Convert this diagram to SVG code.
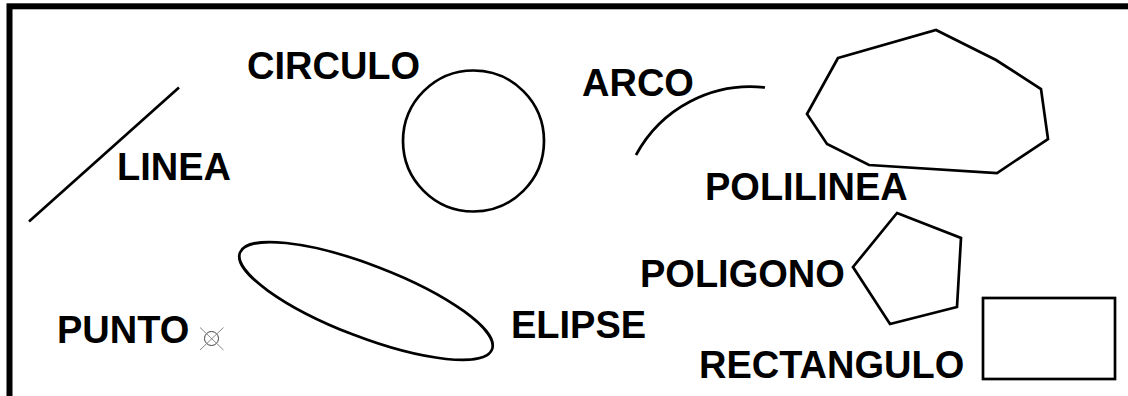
<svg xmlns="http://www.w3.org/2000/svg" width="1128" height="396" viewBox="0 0 1128 396">
<style>
.lbl{font-family:"Liberation Sans",Arial,sans-serif;font-weight:bold;font-size:38px;fill:#000}
.shp{fill:none;stroke:#000;stroke-width:2.7;stroke-linejoin:miter}
</style>
<rect width="1128" height="396" fill="#fff"/>
<rect id="frame" x="9.5" y="6.3" width="1140" height="420" fill="none" stroke="#000" stroke-width="6"/>
<g id="linea">
<line class="shp" x1="29" y1="221.5" x2="179" y2="87.5"/>
<text class="lbl" x="117" y="180">LINEA</text>
</g>
<g id="circulo">
<circle class="shp" cx="473.5" cy="141" r="70.5"/>
<text class="lbl" x="247" y="79">CIRCULO</text>
</g>
<g id="arco">
<path class="shp" d="M636 155 A130 130 0 0 1 765 87.5"/>
<text class="lbl" x="582" y="96">ARCO</text>
</g>
<g id="polilinea">
<polygon class="shp" points="838,58 936,30 996,60 1041,89 1048,139 997,173 869,165 827,144 807,114"/>
<text class="lbl" x="705" y="200">POLILINEA</text>
</g>
<g id="elipse">
<ellipse class="shp" cx="366" cy="301" rx="135" ry="36" transform="rotate(21 366 301)"/>
<text class="lbl" x="511" y="338">ELIPSE</text>
</g>
<g id="punto">
<circle cx="211.5" cy="338.5" r="7" fill="none" stroke="#444" stroke-width="1"/>
<line x1="200" y1="327.5" x2="223.5" y2="350" stroke="#888" stroke-width="1"/>
<line x1="223.5" y1="327.5" x2="200" y2="350" stroke="#888" stroke-width="1"/>
<text class="lbl" x="57" y="343">PUNTO</text>
</g>
<g id="poligono">
<polygon class="shp" points="897,213 961,238 957,307 890,324 853,267"/>
<text class="lbl" x="640" y="287">POLIGONO</text>
</g>
<g id="rectangulo">
<rect class="shp" x="983" y="298" width="132" height="81"/>
<text class="lbl" x="699" y="378">RECTANGULO</text>
</g>
</svg>
